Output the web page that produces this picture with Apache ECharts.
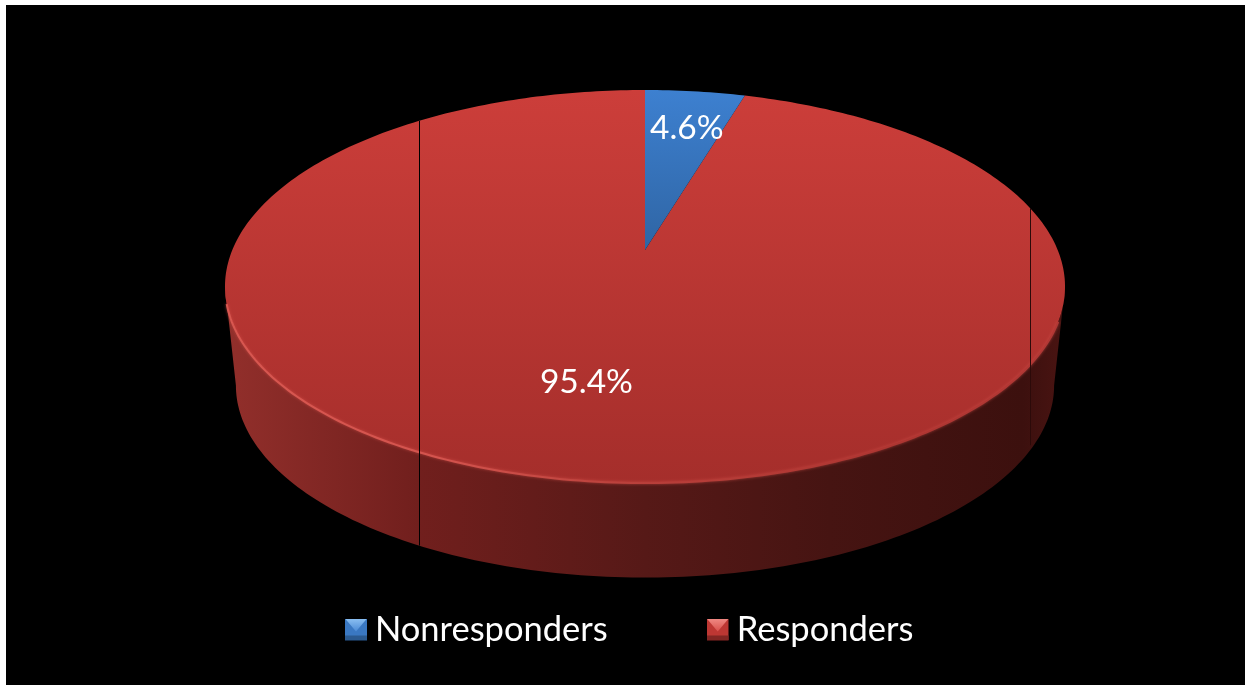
<!DOCTYPE html>
<html>
<head>
<meta charset="utf-8">
<style>html,body{margin:0;padding:0;background:#fff}#c{width:1245px;height:685px}</style>
<script src="https://cdn.jsdelivr.net/npm/echarts@6/dist/echarts.min.js"></script>
</head>
<body>
<div id="c"></div>
<script>
// Data
const categories = ['Nonresponders', 'Responders'];
const shares = [4.6, 95.4];
const labels = ['4.6%', '95.4%'];

// Tilted-disc projection of the unit circle (screen pixels)
const cx = 645, apexY = 250, tiltA = -143.3, tiltC = 0.1858, spanX = 412.7;
const midY = 286.5;
const baseMidY = 385.5, baseScaleX = 0.974, baseScaleY = 0.977;
const labelAngles = [9, 191.5];
const labelRadii = [0.735, 0.63];
const seamFractions = [-0.538, 0.917];
const seamColors = ['#000000', '#2c0a09'];
const seamInsets = [0, 5];
const fontName = 'Lato, "Open Sans", sans-serif';

const D = Math.PI / 180;
function disc(deg, r) {
  const u = r * Math.cos(deg * D), v = r * Math.sin(deg * D), d = tiltC * u + 1;
  return [cx + spanX * v / d, (tiltA * u + apexY) / d];
}
function base(p) {
  return [cx + (p[0] - cx) * baseScaleX, baseMidY + (p[1] - midY) * baseScaleY];
}
function arc(a0, a1, map) {
  const pts = [], n = Math.max(2, Math.ceil(Math.abs(a1 - a0) / 1));
  for (let i = 0; i <= n; i++) {
    const p = disc(a0 + (a1 - a0) * i / n, 1);
    pts.push(map ? map(p) : p);
  }
  return pts;
}
function vGrad(y0, y1, c0, c1) {
  return new echarts.graphic.LinearGradient(0, y0, 0, y1,
    [{offset: 0, color: c0}, {offset: 1, color: c1}], true);
}
const leftExtreme = 360 - Math.acos(-tiltC) / D;
const rightExtreme = Math.acos(-tiltC) / D;

function seamEnds(f, inset) {
  const rx = spanX / Math.sqrt(1 - tiltC * tiltC);
  const ry = midY - disc(0, 1)[1];
  const x = Math.floor(cx + f * rx) + 0.5;
  const yTop = midY - ry * Math.sqrt(1 - f * f);
  const g = f / baseScaleX;
  const yBot = baseMidY + ry * baseScaleY * Math.sqrt(Math.max(0, 1 - g * g)) - inset;
  return [x, yTop, yBot];
}

function sliceItem(index) {
  return function () {
    const start = shares.slice(0, index).reduce((a, b) => a + b, 0) * 3.6;
    const end = start + shares[index] * 3.6;
    const apex = [cx, apexY];
    const children = [];
    if (index === 1) {
      const side = arc(rightExtreme, leftExtreme).concat(arc(leftExtreme, rightExtreme, base));
      children.push({
        type: 'polygon', shape: {points: side},
        style: {fill: new echarts.graphic.LinearGradient(226, 0, 1065, 0, [
          {offset: 0, color: '#922f2b'},
          {offset: 0.23, color: '#711f1d'},
          {offset: 0.5, color: '#561917'},
          {offset: 0.72, color: '#461412'},
          {offset: 0.95, color: '#3c100e'},
          {offset: 1, color: '#4a1412'}
        ], true)}
      });
    }
    const fill = index === 0
      ? vGrad(90, 250, '#3d80d0', '#2f65a4')
      : vGrad(90, 483, '#cc3e3a', '#a52e2b');
    children.push({
      type: 'polygon',
      shape: {points: [apex].concat(arc(start, end))},
      style: {fill: fill}
    });
    if (index === 1) {
      children.push({
        type: 'polyline', shape: {points: arc(rightExtreme + 10, leftExtreme - 5)},
        style: {
          fill: null, lineWidth: 2,
          shadowBlur: 3, shadowColor: 'rgba(215,80,74,0.7)',
          stroke: new echarts.graphic.LinearGradient(226, 0, 1065, 0, [
            {offset: 0, color: '#d85750'},
            {offset: 0.25, color: '#d4544e'},
            {offset: 0.5, color: '#b83f3a'},
            {offset: 0.8, color: '#ad3531'},
            {offset: 1, color: '#b23835'}
          ], true)
        }
      });
      seamFractions.forEach(function (f, i) {
        const e = seamEnds(f, seamInsets[i]);
        children.push({
          type: 'line', shape: {x1: e[0], y1: e[1], x2: e[0], y2: e[2]},
          style: {stroke: seamColors[i], lineWidth: 1}
        });
      });
    }
    const lp = disc(labelAngles[index], labelRadii[index]);
    children.push({
      type: 'text', z2: 10,
      style: {
        text: labels[index], x: lp[0], y: lp[1],
        align: 'center', verticalAlign: 'middle',
        fill: '#ffffff', fontSize: 33.5, fontFamily: fontName
      }
    });
    return {type: 'group', children: children};
  };
}

// Bevelled legend swatches: [top light, top mid, body, bottom]
const swatchColors = [
  ['#8cc0f2', '#4a8ad6', '#3a78c2', '#2b5a90'],
  ['#f08a84', '#d8504b', '#bd3733', '#822623']
];
function swatch(c) {
  const svg = "<svg xmlns='http://www.w3.org/2000/svg' width='22' height='22' viewBox='0 0 22 22'>" +
    "<defs><linearGradient id='t' x1='0' y1='0' x2='0' y2='1'><stop offset='0' stop-color='" + c[0] + "'/><stop offset='1' stop-color='" + c[1] + "'/></linearGradient></defs>" +
    "<rect width='22' height='22' fill='" + c[2] + "'/>" +
    "<polygon points='0,0 22,0 11,13' fill='url(#t)'/>" +
    "<rect y='17' width='22' height='5' fill='" + c[3] + "'/></svg>";
  return 'image://data:image/svg+xml;charset=utf-8,' + encodeURIComponent(svg);
}

const chart = echarts.init(document.getElementById('c'), null, {renderer: 'canvas'});
chart.setOption({
  animation: false,
  backgroundColor: '#ffffff',
  graphic: [{type: 'rect', z: -10, silent: true,
    shape: {x: 6, y: 5, width: 1239, height: 680}, style: {fill: '#000000'}}],
  legend: {
    data: categories.map(function (n, i) { return {name: n, icon: swatch(swatchColors[i])}; }),
    left: 340, top: 607, itemWidth: 22, itemHeight: 22, itemGap: 99,
    textStyle: {color: '#ffffff', fontSize: 34.5, fontFamily: fontName, padding: [0, 0, 0, 3]}
  },
  series: categories.map(function (name, i) {
    return {
      type: 'custom', name: name, coordinateSystem: 'none', silent: true,
      z: i === 0 ? 3 : 2,
      data: [[shares[i]]],
      itemStyle: {color: swatchColors[i][2]},
      renderItem: sliceItem(i)
    };
  })
});
</script>
</body>
</html>
